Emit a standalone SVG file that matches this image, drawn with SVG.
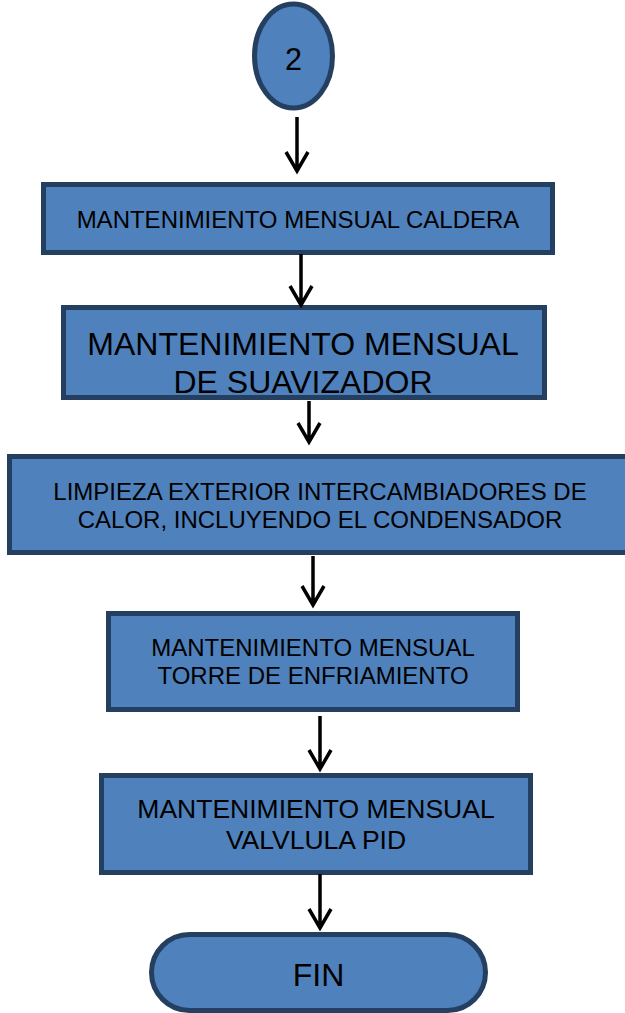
<svg xmlns="http://www.w3.org/2000/svg" width="625" height="1013" viewBox="0 0 625 1013">
<style>
.shape{fill:#4F81BD;stroke:#243F60;stroke-width:5}
.t{font-family:"Liberation Sans",Arial,sans-serif;fill:#000;text-anchor:middle}
.c{stroke:#000;stroke-width:3.5;fill:none}
</style>
<rect width="625" height="1013" fill="#fff"/>
<g id="start">
<ellipse class="shape" cx="293.5" cy="56" rx="39" ry="52"/>
<text class="t" x="293.5" y="70" font-size="30.5">2</text>
</g>
<g id="n1">
<rect class="shape" x="43.5" y="184.5" width="509" height="68"/>
<text class="t" x="298" y="227.5" font-size="24">MANTENIMIENTO MENSUAL CALDERA</text>
</g>
<g id="n2">
<rect class="shape" x="63.5" y="307.5" width="481" height="90"/>
<text class="t" x="303" y="355" font-size="32">MANTENIMIENTO MENSUAL</text>
<text class="t" x="303" y="393" font-size="32">DE SUAVIZADOR</text>
</g>
<g id="n3">
<rect class="shape" x="9.5" y="456.5" width="640" height="96"/>
<text class="t" x="320" y="500" font-size="24">LIMPIEZA EXTERIOR INTERCAMBIADORES DE</text>
<text class="t" x="320" y="528" font-size="24">CALOR, INCLUYENDO EL CONDENSADOR</text>
</g>
<g id="n4">
<rect class="shape" x="108.5" y="613.5" width="409" height="96"/>
<text class="t" x="313" y="656" font-size="24">MANTENIMIENTO MENSUAL</text>
<text class="t" x="313" y="684" font-size="24">TORRE DE ENFRIAMIENTO</text>
</g>
<g id="n5">
<rect class="shape" x="101.5" y="775.5" width="429" height="97"/>
<text class="t" x="316" y="818" font-size="26.5">MANTENIMIENTO MENSUAL</text>
<text class="t" x="316" y="849" font-size="26.5">VALVLULA PID</text>
</g>
<g id="end">
<rect class="shape" x="151.5" y="934.5" width="334" height="76" rx="38" ry="38"/>
<text class="t" x="318.5" y="986" font-size="32">FIN</text>
</g>
<g id="connectors" class="c">
<path d="M297,117 V171 M286,152 L297,171 L308,152"/>
<path d="M301,254 V305 M290,286 L301,305 L312,286"/>
<path d="M309,401 V442 M298,423 L309,442 L320,423"/>
<path d="M313,556 V605 M302,586 L313,605 L324,586"/>
<path d="M320,716 V769 M309,750 L320,769 L331,750"/>
<path d="M320,874 V928 M309,909 L320,928 L331,909"/>
</g>
</svg>
